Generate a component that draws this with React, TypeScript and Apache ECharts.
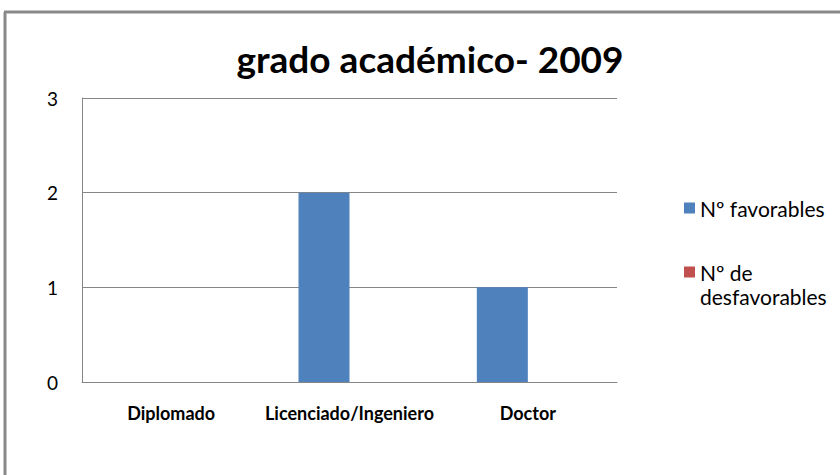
import React, { useEffect, useRef } from "react";
import * as echarts from "echarts";

const categories = ["Diplomado", "Licenciado/Ingeniero", "Doctor"];
const favorables = [0, 2, 1];
const desfavorables = [0, 0, 0];
const seriesNames = ["Nº favorables", "Nº de desfavorables"];
const yTicks = [0, 1, 2, 3];
const titleText = "grado académico- 2009";

export default function App() {
  const ref = useRef<HTMLDivElement>(null);
  useEffect(() => {
    if (!ref.current) return;
    const chart = echarts.init(ref.current, null, { renderer: "svg" });
    const font = "Lato, 'Noto Sans', sans-serif";
    chart.setOption({
      animation: false,
      backgroundColor: "#ffffff",
      title: {
        text: titleText,
        left: 425,
        top: 35,
        textAlign: "center",
        textStyle: { fontFamily: font, fontSize: 37, fontWeight: "bold", color: "#000" },
      },
      legend: [
        {
          data: [{ name: seriesNames[0] }],
          left: 679,
          top: 191,
          orient: "vertical",
          icon: "rect",
          itemWidth: 11,
          itemHeight: 11,
          itemGap: 0,
          itemStyle: { borderWidth: 0 },
          textStyle: { fontFamily: font, fontSize: 21, color: "#000", lineHeight: 24 },
        },
        {
          data: [{ name: seriesNames[1] }],
          left: 679,
          top: 231,
          orient: "vertical",
          icon: "rect",
          itemWidth: 11,
          itemHeight: 11,
          itemGap: 0,
          itemStyle: { borderWidth: 0 },
          formatter: () => "\nNº de\ndesfavorables",
          textStyle: { fontFamily: font, fontSize: 21, color: "#000", lineHeight: 24 },
        },
      ],
      grid: { left: 82, right: 223, top: 98, bottom: 93, containLabel: false },
      xAxis: {
        type: "category",
        data: categories,
        axisLine: { show: true, lineStyle: { color: "#868686", width: 1 } },
        axisTick: { show: false },
        axisLabel: {
          fontFamily: font,
          fontSize: 18,
          fontWeight: "bold",
          color: "#000",
          margin: 22,
          interval: 0,
        },
      },
      yAxis: {
        type: "value",
        min: 0,
        max: 3,
        interval: 1,
        axisLine: { show: true, lineStyle: { color: "#868686", width: 1 } },
        axisTick: { show: false },
        splitLine: { show: true, lineStyle: { color: "#868686", width: 1 } },
        axisLabel: {
          fontFamily: font,
          fontSize: 19,
          color: "#000",
          margin: 24,
          formatter: (v: number) => (yTicks.includes(v) ? String(v) : ""),
        },
      },
      series: [
        {
          name: seriesNames[0],
          type: "bar",
          data: favorables,
          barWidth: 51,
          barGap: "0%",
          itemStyle: { color: "#4F81BD" },
        },
        {
          name: seriesNames[1],
          type: "bar",
          data: desfavorables,
          barWidth: 51,
          barGap: "0%",
          itemStyle: { color: "#C0504D" },
        },
      ],
      graphic: [
        {
          type: "line",
          shape: { x1: 5, y1: 12, x2: 5, y2: 475 },
          style: { stroke: "#898989", lineWidth: 3 },
        },
        {
          type: "line",
          shape: { x1: 4, y1: 12, x2: 840, y2: 12 },
          style: { stroke: "#898989", lineWidth: 3 },
        },
      ],
    });
    return () => chart.dispose();
  }, []);
  return (
    <div
      ref={ref}
      style={{ position: "absolute", left: 0, top: 0, width: 840, height: 475 }}
    />
  );
}
